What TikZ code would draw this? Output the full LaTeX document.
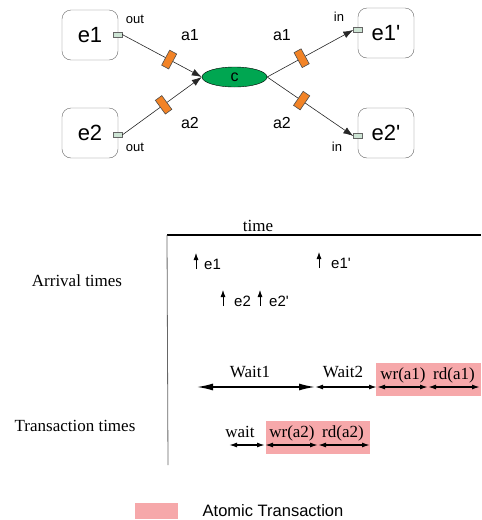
\documentclass[tikz,border=0pt]{standalone}
\usepackage{fontspec}
\setmainfont{Liberation Serif}
\setsansfont{Liberation Sans}
\usetikzlibrary{shapes.geometric,arrows.meta}
\definecolor{atomico}{RGB}{246,168,170}
\definecolor{verde}{RGB}{0,166,81}
\definecolor{arancio}{RGB}{242,131,38}
\definecolor{porta}{RGB}{205,228,212}
\newcommand{\corpo}[1]{\fontsize{#1}{#1}\selectfont}
\tikzset{
  blocco/.style={draw=black!60, rounded corners=9pt, minimum width=56pt, minimum height=50pt, font=\sffamily\corpo{22}},
  porto/.style={draw=black!60, fill=porta, minimum width=9pt, minimum height=5pt, inner sep=0pt},
  canale/.style={draw=black!70, fill=arancio, minimum width=8pt, minimum height=17pt, inner sep=0pt, sloped},
  freccia/.style={black!85, line width=0.6pt, -{Latex[length=10pt,width=7pt]}},
  etic/.style={font=\sffamily\corpo{16}, inner sep=0pt},
  piccola/.style={font=\sffamily\corpo{13}, inner sep=0pt},
  testo/.style={font=\corpo{17}, inner sep=0pt},
  arrivo/.style={line width=0.8pt, -{Latex[length=7pt,width=5pt]}},
  intervallo/.style={line width=1.4pt, {Latex[length=8pt,width=5pt]}-{Latex[length=8pt,width=5pt]}},
  lungo/.style={line width=1.4pt, {Latex[length=16pt,width=7pt]}-{Latex[length=16pt,width=7pt]}}
}
\begin{document}
\begin{tikzpicture}[x=1pt,y=-1pt]
  \useasboundingbox (0,0) rectangle (482,520);
  % componenti
  \node[blocco] (e1) at (90,35) {e1};
  \node[blocco] (e2) at (90,133) {e2};
  \node[blocco] (e1p) at (386,33) {e1\textquotesingle};
  \node[blocco] (e2p) at (386,133) {e2\textquotesingle};
  \node[porto] (o1) at (117.5,34.5) {};
  \node[porto] (o2) at (117.5,135) {};
  \node[porto] (i1) at (358,30) {};
  \node[porto] (i2) at (358,136) {};
  \node[piccola] (lo1) at (135,19) {out};
  \node[piccola] (lo2) at (135,147) {out};
  \node[piccola] (li1) at (339,17) {in};
  \node[piccola] (li2) at (337,147) {in};
  \node[ellipse, draw=black, fill=verde, minimum width=65pt, minimum height=20pt, inner sep=0pt, font=\sffamily\corpo{16}] (c) at (234.5,77) {c};
  % canali
  \draw[freccia] (o1.east) -- (c.west) node[canale, pos=0.59] (k1) {};
  \draw[freccia] (o2.east) -- (c.west) node[canale, pos=0.52] (k2) {};
  \draw[freccia] (c.east) -- (i1.west) node[canale, pos=0.4] (k3) {};
  \draw[freccia] (c.east) -- (i2.west) node[canale, pos=0.4] (k4) {};
  \node[etic] (a1s) at (190,35) {a1};
  \node[etic] (a1d) at (282,35) {a1};
  \node[etic] (a2s) at (190,123) {a2};
  \node[etic] (a2d) at (282,123) {a2};
  % asse dei tempi
  \coordinate (t0) at (167,235);
  \coordinate (t1) at (481,235);
  \coordinate (t2) at (168,465);
  \draw[line width=1.6pt] (t0) -- (t1);
  \draw[black!60, line width=0.8pt] (t0) -- (t2);
  \node[testo] (tm) at (258,226) {time};
  \node[testo] (arr) at (77,281) {Arrival times};
  \node[testo] (tra) at (75,426) {Transaction times};
  % arrivi
  \foreach \x/\y/\lx/\nome in {196/269/204/e1, 319/268/331/e1\textquotesingle, 223/306/234/e2, 260/306/269/e2\textquotesingle} {
    \draw[arrivo] (\x,\y) -- (\x,\y-16);
    \node[etic, anchor=west, font=\sffamily\corpo{15}] at (\lx,\y-5) {\nome};
  }
  % transazioni
  \fill[atomico] (376,363) rectangle (481,396);
  \fill[atomico] (266,421) rectangle (370,454);
  \coordinate (w0) at (197,387);
  \coordinate (w1) at (315,387);
  \coordinate (w2) at (377,387);
  \coordinate (w3) at (428,387);
  \coordinate (w4) at (480,387);
  \coordinate (v0) at (229,445);
  \coordinate (v1) at (265,445);
  \coordinate (v2) at (318,445);
  \coordinate (v3) at (370,445);
  \draw[lungo] (w0) -- (w1);
  \draw[intervallo] (w1) -- (w2);
  \draw[intervallo] (w2) -- (w3);
  \draw[intervallo] (w3) -- (w4);
  \draw[intervallo] (v0) -- (v1);
  \draw[intervallo] (v1) -- (v2);
  \draw[intervallo] (v2) -- (v3);
  \node[testo, anchor=base] (n1) at (250,377) {Wait1};
  \node[testo, anchor=base] (n2) at (343,377) {Wait2};
  \node[testo, anchor=base] (n3) at (403,379) {wr(a1)};
  \node[testo, anchor=base] (n4) at (454,379) {rd(a1)};
  \node[testo, anchor=base] (n5) at (240,437) {wait};
  \node[testo, anchor=base] (n6) at (292,437) {wr(a2)};
  \node[testo, anchor=base] (n7) at (343,437) {rd(a2)};
  % legenda
  \fill[atomico] (135,503) rectangle (178,519);
  \node[etic, font=\sffamily\corpo{16.5}] (leg) at (273,511) {Atomic Transaction};
\end{tikzpicture}
\end{document}
